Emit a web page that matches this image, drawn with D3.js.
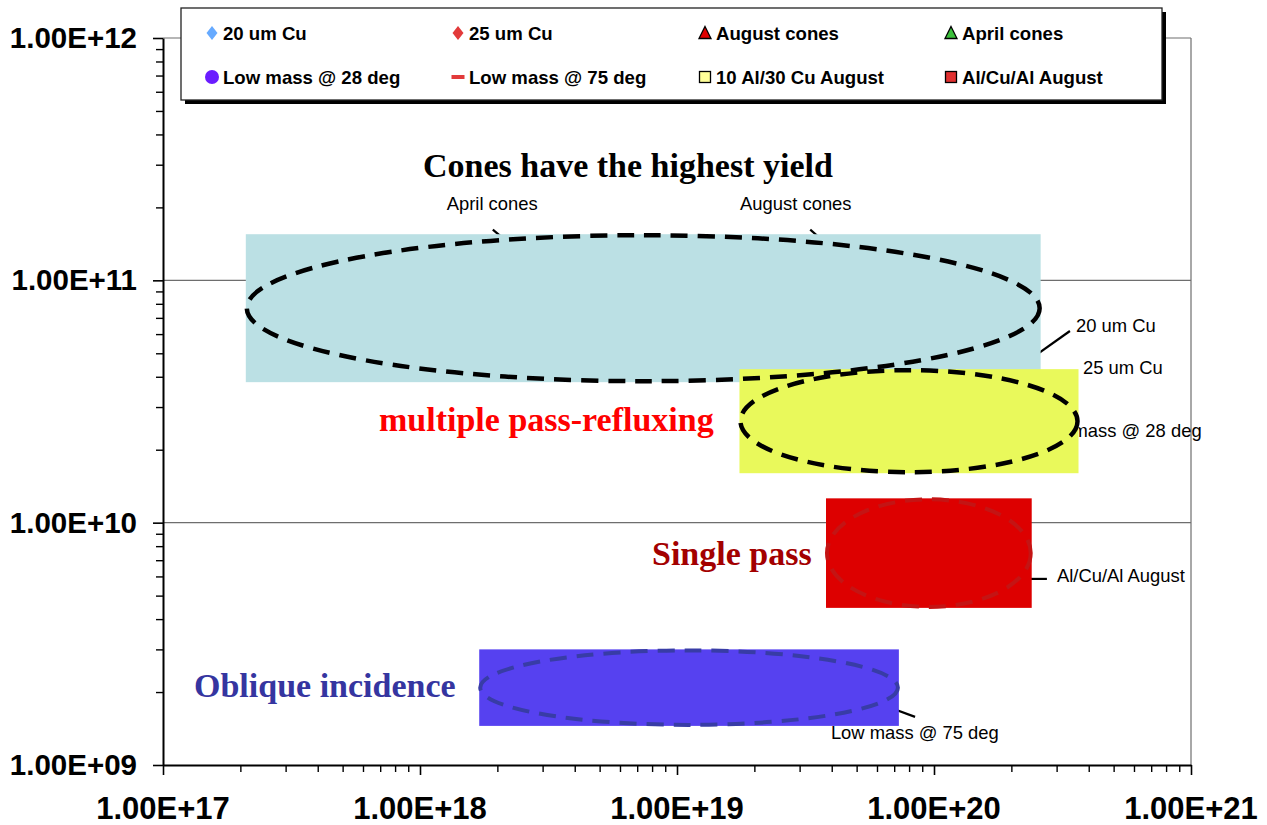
<!DOCTYPE html>
<html>
<head>
<meta charset="utf-8">
<script src="https://cdn.jsdelivr.net/npm/d3@7"></script>
<style>
  html, body { margin: 0; padding: 0; background: #ffffff; }
  svg { display: block; }
</style>
</head>
<body>
<svg id="chart" width="1267" height="825"></svg>
<script>
// ---- axis ticks ----
const xTickValues = [1e17, 1e18, 1e19, 1e20, 1e21];
const xTickLabels = ["1.00E+17", "1.00E+18", "1.00E+19", "1.00E+20", "1.00E+21"];
const yTickValues = [1e9, 1e10, 1e11, 1e12];
const yTickLabels = ["1.00E+09", "1.00E+10", "1.00E+11", "1.00E+12"];

// ---- shaded regimes (x = fluence range, y = yield range) ----
const regionNames = ["Cones", "Multiple pass-refluxing", "Single pass", "Oblique incidence"];
const regionXMin = [2.1e17, 1.75e19, 3.8e19, 1.7e18];
const regionXMax = [2.6e20, 3.65e20, 2.4e20, 7.3e19];
const regionYMin = [3.8e10, 1.6e10, 4.45e9, 1.45e9];
const regionYMax = [1.55e11, 4.3e10, 1.26e10, 3.0e9];

// ---- labelled series: leader from the point to the label ----
const seriesNames = ["April cones", "August cones", "20 um Cu", "25 um Cu",
                     "Low mass @ 28 deg", "Al/Cu/Al August", "Low mass @ 75 deg"];
const pointX  = [2.14e18, 3.66e19, 2.37e20, null, null, 2.16e20, 6.68e19];
const pointY  = [1.47e11, 1.47e11, 4.73e10, null, null, 5.86e9, 1.73e9];
const leaderX = [1.92e18, 3.30e19, 3.38e20, null, null, 2.75e20, 8.44e19];
const leaderY = [1.62e11, 1.62e11, 6.18e10, null, null, 5.86e9, 1.58e9];
const labelX  = [1.27e18, 1.76e19, 3.57e20, 3.80e20, 1.10e21, 3.01e20, 3.97e19];
const labelY  = [1.95e11, 1.95e11, 6.12e10, 4.10e10, 2.26e10, 5.69e9, 1.28e9];

// ---- legend ----
const legendNames = ["20 um Cu", "25 um Cu", "August cones", "April cones",
                     "Low mass @ 28 deg", "Low mass @ 75 deg", "10 Al/30 Cu August", "Al/Cu/Al August"];

// ---- styles ----
const regionFill = ["#bbe0e4", "#e9f95b", "#dd0000", "#5641f0"];
const ellipseStroke = ["#000000", "#000000", "#c41414", "#383ca6"];
const legendShape = ["diamond", "diamond", "triangle", "triangle", "circle", "dash", "square", "square"];
const legendFill = ["#66aaff", "#e23a3a", "#e00000", "#3cc03c", "#6a1cff", "#e23a3a", "#ffff99", "#e03030"];
const legendStroke = [null, null, "#000", "#000", null, null, "#000", "#000"];

const svg = d3.select("#chart");
const plot = { left: 163, right: 1191, top: 38, bottom: 765 };

const x = d3.scaleLog().domain([1e17, 1e21]).range([plot.left, plot.right]);
const y = d3.scaleLog().domain([1e9, 1e12]).range([plot.bottom, plot.top]);

// gridlines and plot frame
const g = svg.append("g");
g.selectAll("line.grid")
  .data(yTickValues.slice(1))
  .join("line")
  .attr("class", "grid")
  .attr("x1", plot.left).attr("x2", plot.right)
  .attr("y1", d => y(d)).attr("y2", d => y(d))
  .attr("stroke", "#6e6e6e").attr("stroke-width", 1.2);
g.append("line")
  .attr("x1", plot.right).attr("x2", plot.right)
  .attr("y1", plot.top).attr("y2", plot.bottom)
  .attr("stroke", "#6e6e6e").attr("stroke-width", 1.2);

// minor tick values
function minorTicks(lo, hi) {
  const out = [];
  for (let e = Math.log10(lo); e < Math.log10(hi); e++) {
    for (let m = 2; m <= 9; m++) out.push(m * Math.pow(10, e));
  }
  return out;
}

// y axis
const yAxis = svg.append("g").attr("transform", `translate(${plot.left},0)`)
  .call(d3.axisLeft(y).tickValues(yTickValues).tickFormat(() => "").tickSize(10).tickSizeOuter(0));
yAxis.select(".domain").attr("stroke", "#000").attr("stroke-width", 2);
yAxis.selectAll(".tick line").attr("stroke", "#000").attr("stroke-width", 1.6);
svg.append("g").attr("transform", `translate(${plot.left},0)`)
  .call(d3.axisLeft(y).tickValues(minorTicks(1e9, 1e12)).tickFormat(() => "").tickSize(7).tickSizeOuter(0))
  .call(a => a.select(".domain").remove())
  .selectAll(".tick line").attr("stroke", "#000").attr("stroke-width", 1.4);
svg.append("g").selectAll("text")
  .data(yTickValues)
  .join("text")
  .attr("x", 137).attr("y", d => y(d) + 10)
  .attr("text-anchor", "end")
  .attr("font-family", "'Liberation Sans', Arial, sans-serif")
  .attr("font-weight", "bold").attr("font-size", 29.5)
  .attr("fill", "#000")
  .text((d, i) => yTickLabels[i]);

// x axis
const xAxis = svg.append("g").attr("transform", `translate(0,${plot.bottom})`)
  .call(d3.axisBottom(x).tickValues(xTickValues).tickFormat(() => "").tickSize(10).tickSizeOuter(0));
xAxis.select(".domain").attr("stroke", "#000").attr("stroke-width", 2);
xAxis.selectAll(".tick line").attr("stroke", "#000").attr("stroke-width", 1.6);
svg.append("g").attr("transform", `translate(0,${plot.bottom})`)
  .call(d3.axisBottom(x).tickValues(minorTicks(1e17, 1e21)).tickFormat(() => "").tickSize(7).tickSizeOuter(0))
  .call(a => a.select(".domain").remove())
  .selectAll(".tick line").attr("stroke", "#000").attr("stroke-width", 1.4);
svg.append("g").selectAll("text")
  .data(xTickValues)
  .join("text")
  .attr("x", d => x(d)).attr("y", 819)
  .attr("text-anchor", "middle")
  .attr("font-family", "'Liberation Sans', Arial, sans-serif")
  .attr("font-weight", "bold").attr("font-size", 31)
  .attr("fill", "#000")
  .text((d, i) => xTickLabels[i]);

// series labels and leader lines (sit beneath the shaded regimes)
const lab = svg.append("g");
seriesNames.forEach((name, i) => {
  if (pointX[i] !== null) {
    lab.append("line")
      .attr("x1", x(pointX[i])).attr("y1", y(pointY[i]))
      .attr("x2", x(leaderX[i])).attr("y2", y(leaderY[i]))
      .attr("stroke", "#000").attr("stroke-width", 2.2);
  }
  lab.append("text")
    .attr("x", x(labelX[i])).attr("y", y(labelY[i]))
    .attr("text-anchor", name === "Low mass @ 28 deg" ? "end" : "start")
    .attr("font-family", "'Liberation Sans', Arial, sans-serif")
    .attr("font-size", 18.4)
    .attr("fill", "#000")
    .text(name);
});

// shaded regimes
const reg = svg.append("g");
reg.selectAll("rect")
  .data(regionNames)
  .join("rect")
  .attr("x", (d, i) => x(regionXMin[i]))
  .attr("y", (d, i) => y(regionYMax[i]))
  .attr("width", (d, i) => x(regionXMax[i]) - x(regionXMin[i]))
  .attr("height", (d, i) => y(regionYMin[i]) - y(regionYMax[i]))
  .attr("fill", (d, i) => regionFill[i]);

// dashed ellipses inscribed in each regime
reg.selectAll("ellipse")
  .data(regionNames)
  .join("ellipse")
  .attr("cx", (d, i) => (x(regionXMin[i]) + x(regionXMax[i])) / 2)
  .attr("cy", (d, i) => (y(regionYMin[i]) + y(regionYMax[i])) / 2)
  .attr("rx", (d, i) => (x(regionXMax[i]) - x(regionXMin[i])) / 2 - 1)
  .attr("ry", (d, i) => (y(regionYMin[i]) - y(regionYMax[i])) / 2 - 1)
  .attr("fill", "none")
  .attr("stroke", (d, i) => ellipseStroke[i])
  .attr("stroke-width", (d, i) => i < 2 ? 4.5 : 4)
  .attr("stroke-dasharray", "17 10");

// regime headings
const headFont = "'Liberation Serif', 'Times New Roman', serif";
const headings = [
  { text: "Cones have the highest yield", x: 423, y: 177, color: "#000000" },
  { text: "multiple pass-refluxing", x: 379, y: 431, color: "#ff0000" },
  { text: "Single pass", x: 652, y: 565, color: "#a30000" },
  { text: "Oblique incidence", x: 194, y: 697, color: "#3535a0" }
];
svg.append("g").selectAll("text")
  .data(headings)
  .join("text")
  .attr("x", d => d.x).attr("y", d => d.y)
  .attr("font-family", headFont)
  .attr("font-weight", "bold").attr("font-size", 34)
  .attr("fill", d => d.color)
  .text(d => d.text);

// legend box with drop shadow
const leg = svg.append("g");
leg.append("rect").attr("x", 185).attr("y", 12).attr("width", 981).attr("height", 92).attr("fill", "#000");
leg.append("rect").attr("x", 181).attr("y", 8).attr("width", 981).attr("height", 92)
  .attr("fill", "#fff").attr("stroke", "#222").attr("stroke-width", 1.3);

const colMarker = [212, 458, 705, 951];
const rowCenter = [33, 77];
legendNames.forEach((name, i) => {
  const cx = colMarker[i % 4], cy = rowCenter[Math.floor(i / 4)];
  const shape = legendShape[i];
  let m;
  if (shape === "diamond") {
    m = leg.append("path").attr("d", `M${cx},${cy - 7}L${cx + 5.5},${cy}L${cx},${cy + 7}L${cx - 5.5},${cy}Z`);
  } else if (shape === "triangle") {
    m = leg.append("path").attr("d", `M${cx},${cy - 6.5}L${cx + 6},${cy + 5.5}L${cx - 6},${cy + 5.5}Z`);
  } else if (shape === "circle") {
    m = leg.append("circle").attr("cx", cx).attr("cy", cy).attr("r", 7);
  } else if (shape === "dash") {
    m = leg.append("rect").attr("x", cx - 6.5).attr("y", cy - 2).attr("width", 13).attr("height", 4);
  } else {
    m = leg.append("rect").attr("x", cx - 5.5).attr("y", cy - 5.5).attr("width", 11).attr("height", 11);
  }
  m.attr("fill", legendFill[i]);
  if (legendStroke[i]) m.attr("stroke", legendStroke[i]).attr("stroke-width", 1.3);
  leg.append("text")
    .attr("x", cx + 11).attr("y", cy + 6.5)
    .attr("font-family", "'Liberation Sans', Arial, sans-serif")
    .attr("font-weight", "bold").attr("font-size", 18.6)
    .attr("fill", "#000")
    .text(name);
});
</script>
</body>
</html>
